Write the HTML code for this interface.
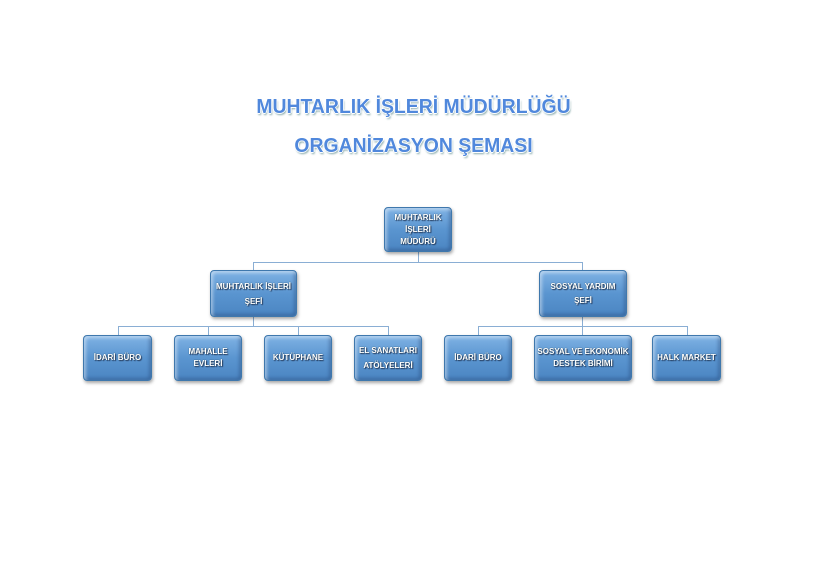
<!DOCTYPE html>
<html><head><meta charset="utf-8"><style>
body{margin:0;width:813px;height:572px;background:#fff;position:relative;overflow:hidden;font-family:"Liberation Sans",sans-serif}
.t{position:absolute;left:7px;width:813px;text-align:center;font-size:20px;font-weight:bold;color:#5088dc;transform:scaleX(0.97);text-shadow:-1px 0 #fff,1px 0 #fff,0 -1px #fff,0 1px #fff,1px 2px 2px #8aa;}
.b{position:absolute;box-sizing:border-box;border:1px solid #3f78ad;border-radius:4px;background:linear-gradient(#7fb2e4,#5a95d0 50%,#4b85c2);box-shadow:1px 2px 3px rgba(0,0,0,0.35),inset 2px 2px 3px rgba(255,255,255,0.45),inset -2px -2px 3px rgba(30,60,110,0.35);display:flex;align-items:center;justify-content:center;text-align:center;color:#fff;font-size:8px;font-weight:bold;line-height:12px;text-shadow:0 0 1px #245,1px 1px 1px #235}
.h{position:absolute;height:1px;background:#8aaed4}
.v{position:absolute;width:1px;background:#8aaed4}
</style></head><body>
<div class="t" style="top:96px">MUHTARLIK İŞLERİ MÜDÜRLÜĞÜ</div>
<div class="t" style="top:135px">ORGANİZASYON ŞEMASI</div>

<div class="v" style="left:418px;top:252px;height:10px"></div>
<div class="h" style="left:253px;top:262px;width:330px"></div>
<div class="v" style="left:253px;top:262px;height:8px"></div>
<div class="v" style="left:582px;top:262px;height:8px"></div>

<div class="v" style="left:253px;top:317px;height:9px"></div>
<div class="h" style="left:118px;top:326px;width:271px"></div>
<div class="v" style="left:118px;top:326px;height:9px"></div>
<div class="v" style="left:208px;top:326px;height:9px"></div>
<div class="v" style="left:298px;top:326px;height:9px"></div>
<div class="v" style="left:388px;top:326px;height:9px"></div>

<div class="v" style="left:582px;top:317px;height:9px"></div>
<div class="h" style="left:478px;top:326px;width:210px"></div>
<div class="v" style="left:478px;top:326px;height:9px"></div>
<div class="v" style="left:582px;top:326px;height:9px"></div>
<div class="v" style="left:687px;top:326px;height:9px"></div>

<div class="b" style="left:384px;top:207px;width:68px;height:45px">MUHTARLIK<br>İŞLERİ<br>MÜDÜRÜ</div>
<div class="b" style="left:210px;top:270px;width:87px;height:47px;line-height:15px">MUHTARLIK İŞLERİ<br>ŞEFİ</div>
<div class="b" style="left:539px;top:270px;width:88px;height:47px;line-height:14px">SOSYAL YARDIM<br>ŞEFİ</div>

<div class="b" style="left:83px;top:335px;width:69px;height:46px">İDARİ BÜRO</div>
<div class="b" style="left:174px;top:335px;width:68px;height:46px">MAHALLE<br>EVLERİ</div>
<div class="b" style="left:264px;top:335px;width:68px;height:46px">KÜTÜPHANE</div>
<div class="b" style="left:354px;top:335px;width:68px;height:46px;line-height:15px">EL SANATLARI<br>ATÖLYELERİ</div>
<div class="b" style="left:444px;top:335px;width:68px;height:46px">İDARİ BÜRO</div>
<div class="b" style="left:534px;top:335px;width:98px;height:46px">SOSYAL VE EKONOMİK<br>DESTEK BİRİMİ</div>
<div class="b" style="left:652px;top:335px;width:69px;height:46px">HALK MARKET</div>
</body></html>
